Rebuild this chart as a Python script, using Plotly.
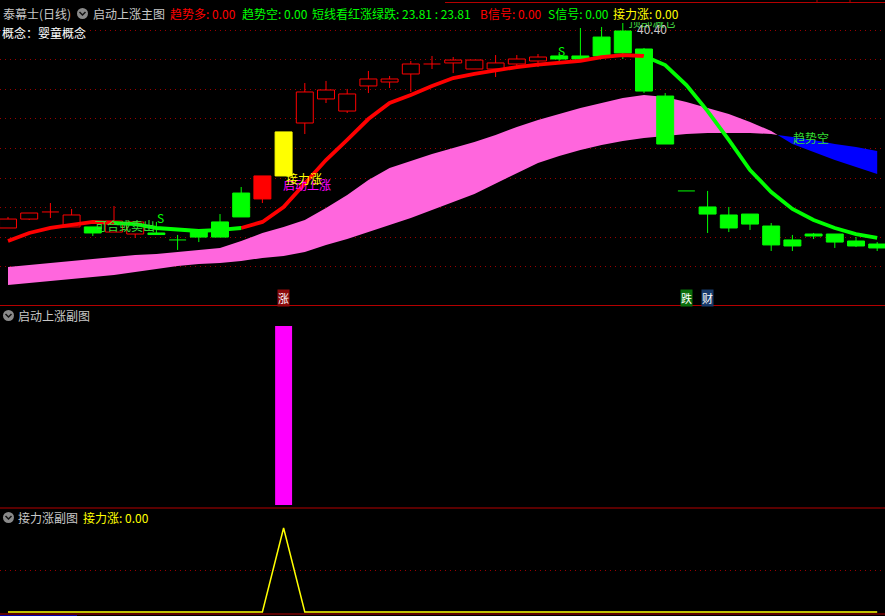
import plotly.graph_objects as go

W, H = 885, 616

# ---------------- data ----------------
bars = list(range(42))
open_ = [24.80, 25.48, 26.02, 24.88, 24.88, 24.49, 24.34, 24.42, 23.89, 24.65,
         24.11, 25.64, 27.01, 28.76, 32.79, 34.62, 33.70, 35.61, 35.91, 36.52,
         37.28, 37.36, 36.90, 36.90, 37.28, 37.51, 37.89, 37.89, 37.89, 38.12,
         38.42, 34.84, 27.62, 26.40, 25.79, 25.86, 24.95, 23.89, 24.34, 24.34,
         23.81, 23.58]
high = [25.64, 25.94, 26.70, 26.25, 24.88, 26.47, 25.26, 25.26, 24.27, 24.65,
        25.86, 27.92, 28.76, 32.11, 35.83, 35.99, 35.38, 36.75, 36.37, 37.51,
        37.89, 37.81, 37.58, 37.96, 37.96, 38.04, 38.19, 40.02, 40.10, 40.40,
        38.50, 35.07, 27.62, 27.62, 26.40, 25.86, 25.18, 24.27, 24.42, 24.34,
        24.11, 23.73]
low = [24.80, 25.41, 25.56, 24.88, 24.19, 24.49, 24.04, 24.27, 23.13, 23.73,
       24.11, 25.64, 26.70, 28.76, 31.95, 34.31, 33.55, 35.07, 35.45, 35.15,
       36.90, 36.59, 36.90, 36.29, 36.90, 37.05, 37.51, 37.43, 37.66, 37.66,
       35.07, 31.19, 27.62, 24.42, 24.49, 24.65, 23.05, 23.05, 23.96, 23.28,
       23.35, 23.05]
close = [25.48, 25.94, 26.02, 25.79, 24.42, 25.33, 25.26, 24.30, 23.89, 24.11,
         25.26, 27.46, 28.76, 32.11, 35.15, 35.30, 35.00, 36.14, 36.14, 37.28,
         37.28, 37.58, 37.58, 37.36, 37.66, 37.81, 37.66, 37.66, 39.33, 39.79,
         35.22, 31.19, 27.62, 25.86, 24.80, 25.10, 23.51, 23.43, 24.19, 23.73,
         23.43, 23.28]
# short-term trend line (短线看红涨绿跌)
ma = [23.81, 24.42, 24.80, 25.03, 25.26, 25.18, 25.10, 24.80, 24.65, 24.57,
      24.65, 24.80, 25.26, 26.40, 28.22, 29.97, 31.50, 33.09, 34.31, 34.92,
      35.61, 36.21, 36.52, 36.82, 37.05, 37.24, 37.36, 37.51, 37.81, 37.96,
      37.89, 37.20, 35.68, 33.70, 31.50, 29.21, 27.54, 26.25, 25.41, 24.80,
      24.34, 24.04]
# trend band (趋势多 / 趋势空)
band_fast = [21.83, 21.98, 22.14, 22.29, 22.44, 22.59, 22.74, 22.82, 22.97, 23.13,
             23.28, 23.81, 24.42, 24.88, 25.41, 26.32, 27.31, 28.45, 29.37, 29.90,
             30.43, 30.89, 31.34, 31.88, 32.49, 33.02, 33.47, 33.93, 34.31, 34.69,
             34.92, 34.77, 34.39, 33.93, 33.47, 32.87, 32.18, 31.19, 30.58, 29.97,
             29.44, 28.91]
band_slow = [20.46, 20.61, 20.77, 20.92, 21.07, 21.22, 21.45, 21.68, 21.91, 22.06,
             22.14, 22.29, 22.52, 22.67, 22.97, 23.51, 23.96, 24.49, 25.03, 25.56,
             26.17, 26.78, 27.39, 28.15, 28.98, 29.75, 30.28, 30.74, 31.12, 31.42,
             31.65, 31.80, 31.95, 32.03, 32.03, 32.03, 31.95, 31.72, 31.50, 31.19,
             30.96, 30.66]
# sub chart 1: 启动上涨
qidong = [0, 0, 0, 0, 0, 0, 0, 0, 0, 0, 0, 0, 0, 100, 0, 0, 0, 0, 0, 0, 0,
          0, 0, 0, 0, 0, 0, 0, 0, 0, 0, 0, 0, 0, 0, 0, 0, 0, 0, 0, 0, 0]
# sub chart 2: 接力涨
jieli = [0, 0, 0, 0, 0, 0, 0, 0, 0, 0, 0, 0, 0, 1, 0, 0, 0, 0, 0, 0, 0,
         0, 0, 0, 0, 0, 0, 0, 0, 0, 0, 0, 0, 0, 0, 0, 0, 0, 0, 0, 0, 0]

# candle colouring state and trend-line colouring state
style = ["up", "up", "up", "up", "dn", "up", "up", "dn", "dn", "dn", "dn", "dn",
         "sig", "jl"] + ["up"] * 12 + ["dn"] * 16
ma_trend = ["r"] * 6 + ["g"] * 6 + ["r"] * 19 + ["g"] * 11

zhang_bar, die_bar, cai_bar = 13, 32, 33
s_bars = [7, 26]

# ---------------- layout helpers ----------------
FONT = "Noto Sans CJK SC"
GRAY = "#c8c8c8"
RED = "#ff0000"
GREEN = "#00ff00"
YEL = "#ffff00"
MAG = "#ff00ff"
BORDER = "#b40000"
GRID = "#9a0000"


def pxx(px):
    return px / W


def pxy(py):
    return 1 - py / H


K0, K1 = 42.15, 0.0761          # price = K0 - K1 * pixel_row
def prow(py):
    return K0 - K1 * py

x_range = [-8 / 21.2, (W - 8) / 21.2]
main_top, main_bot = 22, 305
sub1_top, sub1_bot = 308, 507
sub2_top, sub2_bot = 510, 614
grid_rows = [30, 59.6, 89.2, 118.8, 148.4, 178, 207.6, 237.2, 266.8]

fig = go.Figure()

# ---------------- trend band (base subplot, beneath candles) ----------------
diff = [a - b for a, b in zip(band_fast, band_slow)]
k = next(i for i in range(len(diff) - 1) if diff[i] > 0 >= diff[i + 1])
t = diff[k] / (diff[k] - diff[k + 1])
xc = k + t
yc = band_fast[k] + t * (band_fast[k + 1] - band_fast[k])
pink_x = bars[:k + 1] + [xc] + bars[k::-1]
pink_y = band_fast[:k + 1] + [yc] + band_slow[k::-1]
blue_x = [xc] + bars[k + 1:] + bars[:k:-1]
blue_y = [yc] + band_fast[k + 1:] + band_slow[:k:-1]
fig.add_trace(go.Scatter(x=pink_x, y=pink_y, fill="toself", fillcolor="#ff66dd",
                         mode="lines", line=dict(width=0), hoverinfo="skip",
                         showlegend=False, xaxis="x", yaxis="y"))
fig.add_trace(go.Scatter(x=blue_x, y=blue_y, fill="toself", fillcolor="#0000ff",
                         mode="lines", line=dict(width=0), hoverinfo="skip",
                         showlegend=False, xaxis="x", yaxis="y"))

# ---------------- candles (overlay subplot) ----------------
body_colors = {"up": ("#000000", RED), "dn": (GREEN, GREEN),
               "sig": (RED, RED), "jl": (YEL, YEL)}
for st, (fillc, linec) in body_colors.items():
    xs = [i for i in bars if style[i] == st and abs(close[i] - open_[i]) > 0.05]
    if not xs:
        continue
    fig.add_trace(go.Bar(
        x=xs, y=[abs(close[i] - open_[i]) for i in xs],
        base=[min(open_[i], close[i]) for i in xs], width=0.8,
        marker=dict(color=fillc, line=dict(color=linec, width=1)),
        hoverinfo="skip", showlegend=False, xaxis="x", yaxis="y4"))

for st, (fillc, linec) in body_colors.items():
    wx, wy = [], []
    for i in bars:
        if style[i] != st:
            continue
        top = max(open_[i], close[i])
        bot = min(open_[i], close[i])
        if high[i] > top:
            wx += [i, i, None]
            wy += [top, high[i], None]
        if low[i] < bot:
            wx += [i, i, None]
            wy += [bot, low[i], None]
        if abs(close[i] - open_[i]) <= 0.05:
            wx += [i - 0.4, i + 0.4, None]
            wy += [open_[i], open_[i], None]
    if wx:
        fig.add_trace(go.Scatter(x=wx, y=wy, mode="lines",
                                 line=dict(color=linec, width=1),
                                 hoverinfo="skip", showlegend=False,
                                 xaxis="x", yaxis="y4"))

# ---------------- trend line ----------------
for col, cval in (("r", RED), ("g", GREEN)):
    xs, ys = [], []
    for i in range(len(ma) - 1):
        if ma_trend[i + 1] != col:
            continue
        if xs and xs[-1] == i:
            xs.append(i + 1)
            ys.append(ma[i + 1])
        else:
            if xs:
                xs.append(None)
                ys.append(None)
            xs += [i, i + 1]
            ys += [ma[i], ma[i + 1]]
    fig.add_trace(go.Scatter(x=xs, y=ys, mode="lines",
                             line=dict(color=cval, width=3.8),
                             hoverinfo="skip", showlegend=False,
                             xaxis="x", yaxis="y4"))

# clipped label at top of the main chart
fig.add_trace(go.Scatter(x=[30.4], y=[prow(24)], mode="text", text=["顶部减仓"],
                         textfont=dict(family=FONT, size=12, color="#40d040"),
                         cliponaxis=True, hoverinfo="skip", showlegend=False,
                         xaxis="x", yaxis="y4"))

# ---------------- sub charts ----------------
fig.add_trace(go.Bar(x=bars, y=qidong, width=0.8,
                     marker=dict(color=MAG, line=dict(width=0)),
                     hoverinfo="skip", showlegend=False, xaxis="x2", yaxis="y2"))
fig.add_trace(go.Scatter(x=bars, y=jieli, mode="lines",
                         line=dict(color=YEL, width=1.5),
                         hoverinfo="skip", showlegend=False, xaxis="x3", yaxis="y3"))

# ---------------- axes ----------------
main_range = [prow(main_bot), prow(main_top)]
s1_scale = (505 - 326) / 100.0
s1_range = [-(sub1_bot - 505) / s1_scale, (505 - sub1_top) / s1_scale]
s2_scale = (612 - 528) / 1.0
s2_range = [-(sub2_bot - 612) / s2_scale, (612 - sub2_top) / s2_scale]

hidden = dict(showgrid=False, zeroline=False, showticklabels=False,
              ticks="", showline=False)
fig.update_layout(
    width=W, height=H, margin=dict(l=0, r=0, t=0, b=0),
    paper_bgcolor="#000000", plot_bgcolor="#000000",
    barmode="overlay", showlegend=False,
    xaxis=dict(domain=[0, 1], range=x_range, anchor="y", **hidden),
    yaxis=dict(domain=[pxy(main_bot), pxy(main_top)], range=main_range,
               tickvals=[prow(r) for r in grid_rows], showgrid=True,
               gridcolor=GRID, griddash="1px,4px", gridwidth=1,
               zeroline=False, showticklabels=False, ticks="", anchor="x"),
    yaxis4=dict(overlaying="y", range=main_range, anchor="x", **hidden),
    xaxis2=dict(domain=[0, 1], range=x_range, anchor="y2", **hidden),
    yaxis2=dict(domain=[pxy(sub1_bot), pxy(sub1_top)], range=s1_range,
                anchor="x2", **hidden),
    xaxis3=dict(domain=[0, 1], range=x_range, anchor="y3", **hidden),
    yaxis3=dict(domain=[pxy(sub2_bot), pxy(sub2_top)], range=s2_range,
                tickvals=[0.5], showgrid=True, gridcolor=GRID,
                griddash="1px,4px", zeroline=False, showticklabels=False,
                ticks="", anchor="x3"),
)

# ---------------- text ----------------
anns = []


def txt(s, x, y, color, size=12, xanchor="left", bg=None):
    d = dict(text=s, x=pxx(x), y=pxy(y), xref="paper", yref="paper",
             xanchor=xanchor, yanchor="middle", showarrow=False,
             font=dict(family=FONT, size=size, color=color), borderpad=0)
    if bg:
        d["bgcolor"] = bg
    anns.append(d)


txt("泰幕士(日线)", 2, 13.5, GRAY)
txt("启动上涨主图", 92, 13.5, GRAY)
txt("趋势多: 0.00", 169, 13.5, RED)
txt("趋势空: 0.00", 241, 13.5, GREEN)
txt("短线看红涨绿跌: 23.81 : 23.81", 311, 13.5, GREEN)
txt("B信号: 0.00", 479, 13.5, RED)
txt("S信号: 0.00", 547, 13.5, GREEN)
txt("接力涨: 0.00", 612, 13.5, YEL)
txt("概念：婴童概念", 1, 32, "#ffffff", bg="#000000")

txt("启动上涨副图", 17, 315.5, GRAY)
txt("接力涨副图", 17, 517.5, GRAY)
txt("接力涨: 0.00", 82, 517.5, YEL)

# chart labels
txt("可合或卖出", 125, 226, "#33dd33", xanchor="center")
txt("S", 8 + 21.2 * s_bars[0] + 4, 217, GREEN, xanchor="center")
txt("S", 8 + 21.2 * s_bars[1] + 2, 51, GREEN, xanchor="center")
txt("趋势空", 811, 137, "#33dd33", xanchor="center")
txt("启动上涨", 307, 184, MAG, xanchor="center")
txt("接力涨", 304, 178, YEL, xanchor="center")
txt("40.40", 652, 29, GRAY, xanchor="center")
for b, s, bg in ((zhang_bar, "涨", "#8b0a0a"), (die_bar, "跌", "#0a6e0a"),
                 (cai_bar, "财", "#183a6a")):
    txt(s, 8 + 21.2 * b, 298, "#ffffff", size=11, xanchor="center", bg=bg)

fig.update_layout(annotations=anns)

# ---------------- frame lines & icons ----------------
shapes = []


def hline(py, x0=0, x1=W, color=BORDER, width=1):
    shapes.append(dict(type="line", xref="paper", yref="paper",
                       x0=pxx(x0), x1=pxx(x1), y0=pxy(py), y1=pxy(py),
                       line=dict(color=color, width=width)))


hline(305.5)
hline(508)
hline(614)
hline(615.5, 0, 77, color="#0000aa")
hline(2.5, 445, W)
for vx in (817, 850):
    shapes.append(dict(type="line", xref="paper", yref="paper",
                       x0=pxx(vx), x1=pxx(vx), y0=pxy(0), y1=pxy(3),
                       line=dict(color=BORDER, width=1)))

for cx, cy in ((82.5, 13.5), (8.5, 315.5), (8.5, 517.5)):
    shapes.append(dict(type="circle", xref="paper", yref="paper",
                       x0=pxx(cx - 5.5), x1=pxx(cx + 5.5),
                       y0=pxy(cy + 5.5), y1=pxy(cy - 5.5),
                       fillcolor="#8a8a8a", line=dict(width=0)))
    shapes.append(dict(type="path", xref="paper", yref="paper",
                       path=f"M {pxx(cx - 3)} {pxy(cy - 1.5)} L {pxx(cx)} {pxy(cy + 1.5)} L {pxx(cx + 3)} {pxy(cy - 1.5)}",
                       line=dict(color="#111111", width=1.5)))

fig.update_layout(shapes=shapes)

fig.write_html("out.html", config={"displayModeBar": False},
               post_script="document.body.style.margin='0';document.body.style.background='#000';")
